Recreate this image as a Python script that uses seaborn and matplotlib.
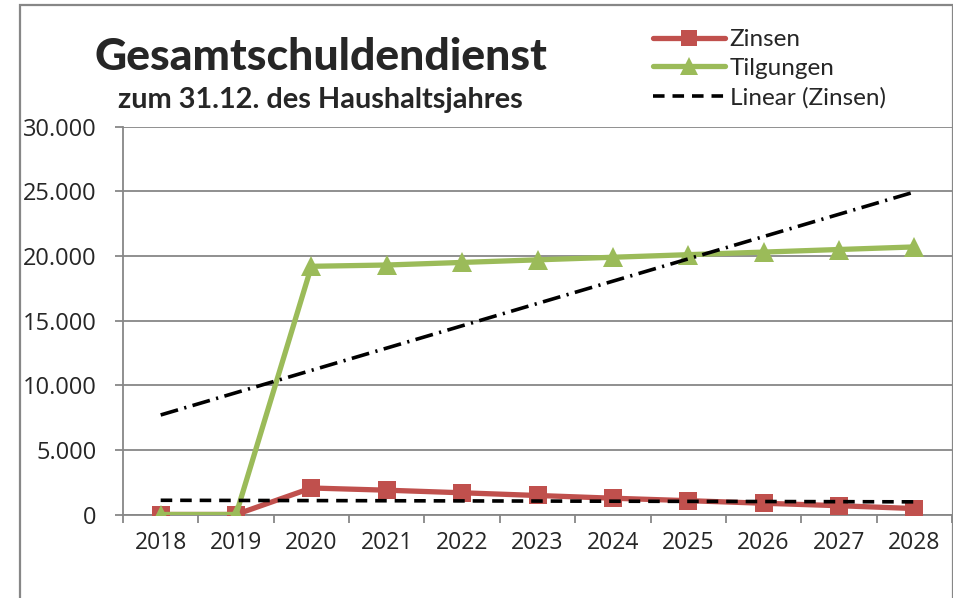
import matplotlib
matplotlib.use("Agg")
import matplotlib.pyplot as plt
import matplotlib.ticker as mticker
import numpy as np
import pandas as pd
import seaborn as sns
from matplotlib.patches import Rectangle

years = [2018, 2019, 2020, 2021, 2022, 2023, 2024, 2025, 2026, 2027, 2028]
zinsen = [0, 0, 2050, 1880, 1680, 1470, 1260, 1070, 870, 680, 460]
tilgungen = [0, 0, 19200, 19300, 19500, 19700, 19900, 20100, 20300, 20500, 20700]

# trend lines (start / end year)
trend_years = [2018, 2028]
trend_zinsen = [1100, 980]
trend_tilgungen = [7700, 24950]

y_ticks = [0, 5000, 10000, 15000, 20000, 25000, 30000]

RED = "#C0504D"
GREEN = "#9BBB59"
GRID = "#878787"

sns.set_style("white")
plt.rcParams["font.family"] = ["Open Sans", "DejaVu Sans"]

df = pd.DataFrame({"year": years, "Zinsen": zinsen, "Tilgungen": tilgungen})
trend = pd.DataFrame({"year": trend_years, "tz": trend_zinsen, "tt": trend_tilgungen})

fig = plt.figure(figsize=(9.54, 5.98), dpi=100)
ax = fig.add_axes([123 / 954, 1 - 514.5 / 598, (952 - 123) / 954, (514.5 - 126.7) / 598])

sns.lineplot(data=df, x="year", y="Zinsen", ax=ax, color=RED, lw=3.8,
             marker="s", markersize=13.5, markeredgewidth=0, label="Zinsen", zorder=3)
sns.lineplot(data=df, x="year", y="Tilgungen", ax=ax, color=GREEN, lw=3.8,
             marker="^", markersize=14, markeredgewidth=0, label="Tilgungen", zorder=4)
sns.lineplot(data=trend, x="year", y="tz", ax=ax, color="black", lw=2.6,
             label="Linear (Zinsen)", zorder=5)
sns.lineplot(data=trend, x="year", y="tt", ax=ax, color="black", lw=2.6,
             label="_nolegend_", zorder=5)
ax.lines[2].set_dashes([3.2, 2.2])
ax.lines[3].set_dashes([5, 1.8, 0.6, 1.8])

ax.set_xlim(2017.5, 2028.5)
ax.set_ylim(0, 30000)
ax.set_xticks(years)
ax.set_xticks([y - 0.5 for y in years] + [2028.5], minor=True)
ax.set_yticks(y_ticks)
ax.yaxis.set_major_formatter(mticker.FuncFormatter(lambda v, p: f"{int(v):,}".replace(",", ".")))
ax.set_xlabel("")
ax.set_ylabel("")

ax.grid(axis="y", color=GRID, lw=1.3)
ax.grid(axis="x", visible=False)
ax.set_axisbelow(True)
for side in ["top", "right"]:
    ax.spines[side].set_visible(False)
for side in ["left", "bottom"]:
    ax.spines[side].set_color(GRID)
    ax.spines[side].set_linewidth(1.3)

ax.tick_params(axis="y", which="major", direction="out", length=6, width=1.3, color=GRID,
               labelsize=17, pad=13, left=True)
ax.tick_params(axis="x", which="major", length=0, labelsize=16.5, pad=12)
ax.tick_params(axis="x", which="minor", direction="out", length=6, width=1.3, color=GRID,
               bottom=True)

ax.get_legend().remove()
handles, labels = ax.get_legend_handles_labels()
fig.legend(handles, labels, loc="upper left", bbox_to_anchor=(653 / 954, 1 - 29 / 598),
           frameon=False, prop={"family": "Lato", "size": 17.5}, handlelength=2.95,
           handletextpad=0.2, labelspacing=0.32, borderpad=0, borderaxespad=0,
           numpoints=1, markerscale=0.9)

fig.text(321 / 954, 1 - 57 / 598, "Gesamtschuldendienst", ha="center", va="center",
         fontsize=32, fontweight=900, family="Lato")
fig.text(320 / 954, 1 - 100 / 598, "zum 31.12. des Haushaltsjahres", ha="center", va="center",
         fontsize=20.8, fontweight="bold", family="Lato")

fig.patches.append(Rectangle((20 / 954, -0.05), (953 - 20) / 954, 1.05 - 5 / 598,
                             transform=fig.transFigure, fill=False, edgecolor=GRID, lw=1.6))

fig.savefig("out.png", dpi=100)
